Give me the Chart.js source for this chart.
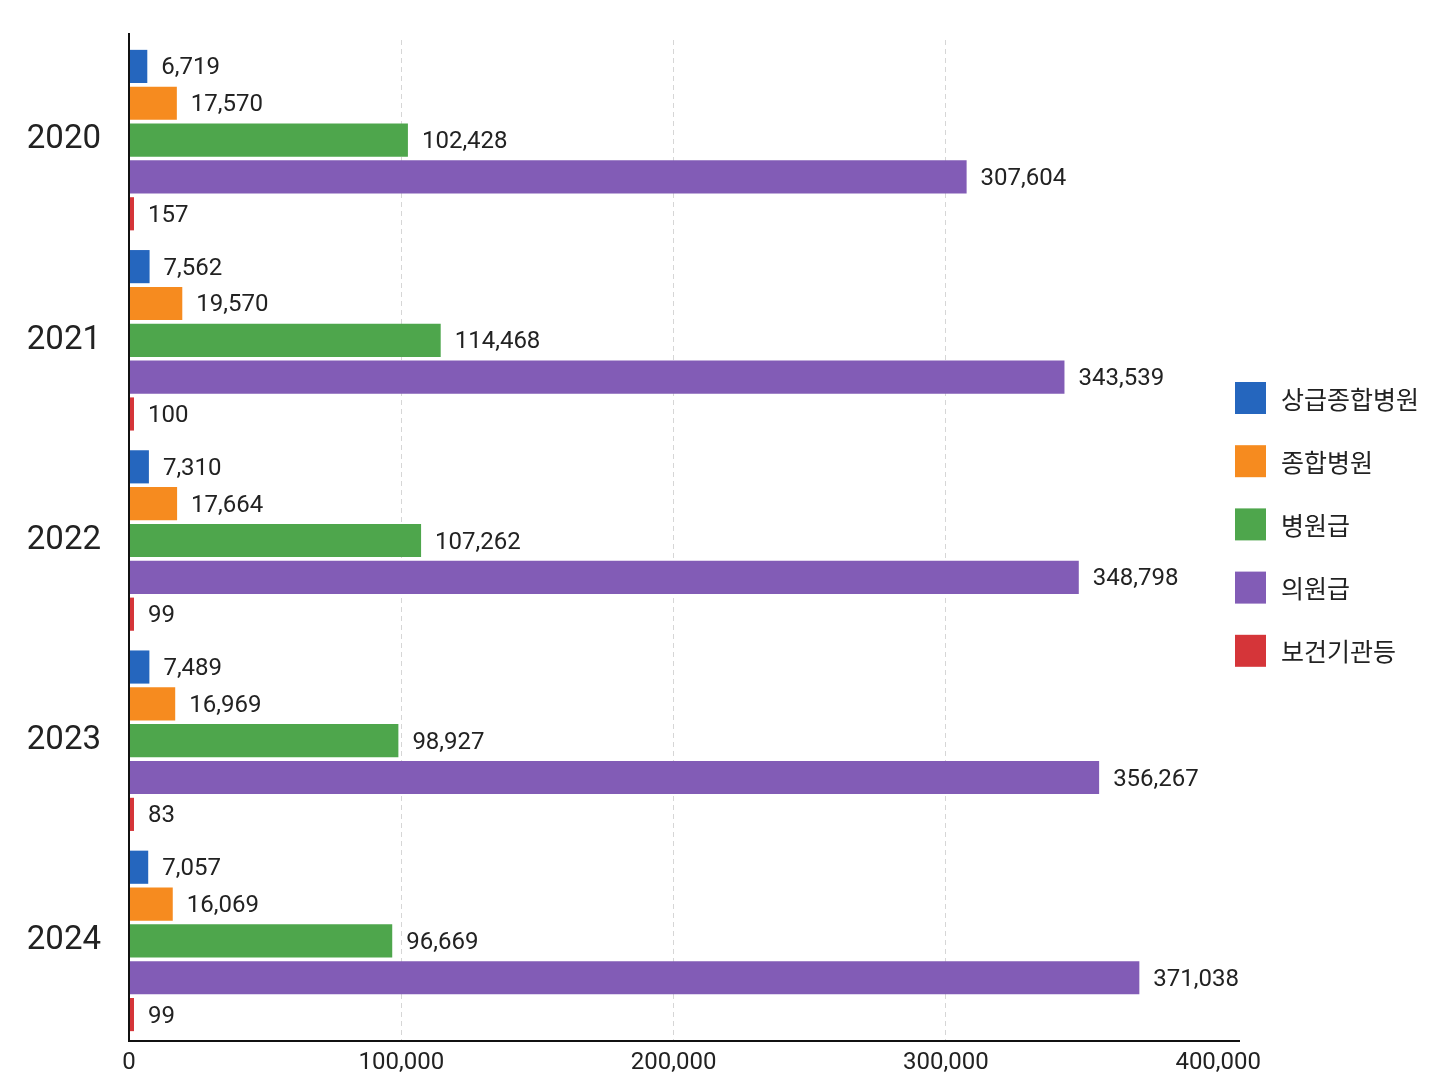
<!DOCTYPE html>
<html>
<head>
<meta charset="utf-8">
<style>
html,body{margin:0;padding:0;background:#fff;}
#wrap{position:relative;width:1448px;height:1086px;}
</style>
<script src="https://cdn.jsdelivr.net/npm/chart.js@4.4.1/dist/chart.umd.min.js"></script>
</head>
<body>
<div id="wrap"><canvas id="c" width="1448" height="1086"></canvas></div>
<script>
const years = ['2020', '2021', '2022', '2023', '2024'];
const seriesNames = ['상급종합병원', '종합병원', '병원급', '의원급', '보건기관등'];
const tertiary = [6719, 7562, 7310, 7489, 7057];
const general = [17570, 19570, 17664, 16969, 16069];
const hospital = [102428, 114468, 107262, 98927, 96669];
const clinic = [307604, 343539, 348798, 356267, 371038];
const publicHealth = [157, 100, 99, 83, 99];
const xTicks = [0, 100000, 200000, 300000, 400000];
const colors = ['#2566be', '#f68b1f', '#4ea64c', '#825cb6', '#d53539'];

const allSeries = [tertiary, general, hospital, clinic, publicHealth];

const labelPlugin = {
  id: 'valueLabels',
  afterDatasetsDraw(chart) {
    const ctx = chart.ctx;
    ctx.save();
    ctx.font = '24px Roboto';
    ctx.fillStyle = '#222';
    ctx.textBaseline = 'middle';
    ctx.textAlign = 'left';
    chart.data.datasets.forEach((ds, i) => {
      const meta = chart.getDatasetMeta(i);
      meta.data.forEach((bar, j) => {
        ctx.fillText(ds.data[j].toLocaleString('en-US'), bar.x + 14, bar.y + 2);
      });
    });
    ctx.restore();
  }
};

const axisPlugin = {
  id: 'axisLines',
  afterDraw(chart) {
    const ctx = chart.ctx;
    const a = chart.chartArea;
    ctx.save();
    ctx.strokeStyle = '#111';
    ctx.lineWidth = 2;
    ctx.setLineDash([]);
    ctx.beginPath();
    ctx.moveTo(a.left, 33);
    ctx.lineTo(a.left, a.bottom);
    ctx.lineTo(a.right, a.bottom);
    ctx.stroke();
    ctx.restore();
  }
};

const legendPlugin = {
  id: 'customLegend',
  afterDraw(chart) {
    const ctx = chart.ctx;
    ctx.save();
    ctx.font = '25px "Noto Sans CJK KR"';
    ctx.textBaseline = 'middle';
    ctx.textAlign = 'left';
    chart.data.datasets.forEach((ds, i) => {
      const cy = 398 + i * 63.2;
      ctx.fillStyle = ds.backgroundColor;
      ctx.fillRect(1235, cy - 16, 31, 32);
      ctx.fillStyle = '#222';
      ctx.fillText(ds.label, 1281, cy + 1);
    });
    ctx.restore();
  }
};

new Chart(document.getElementById('c'), {
  type: 'bar',
  data: {
    labels: years,
    datasets: allSeries.map((d, i) => ({
      label: seriesNames[i],
      data: d,
      backgroundColor: colors[i],
      borderWidth: 0,
      categoryPercentage: 0.92,
      barPercentage: 0.9,
      minBarLength: i === 4 ? 5 : 0
    }))
  },
  options: {
    indexAxis: 'y',
    responsive: false,
    animation: false,
    devicePixelRatio: 1,
    layout: { padding: { top: 40, right: 208, bottom: 0, left: 0 } },
    plugins: { legend: { display: false }, tooltip: { enabled: false } },
    scales: {
      x: {
        min: 0,
        max: 408000,
        afterBuildTicks(scale) { scale.ticks = xTicks.map(v => ({ value: v })); },
        afterFit(scale) { scale.height = 45; scale.paddingLeft = 0; scale.paddingRight = 0; },
        ticks: {
          font: { family: 'Roboto', size: 24 },
          color: '#222',
          padding: 8,
          callback: v => v.toLocaleString('en-US')
        },
        grid: {
          color: ctx => (ctx.tick && (ctx.tick.value === 0 || ctx.tick.value === 400000)) ? 'rgba(0,0,0,0)' : '#d6d6d6',
          lineWidth: 1,
          drawTicks: false
        },
        border: { display: false, dash: [5, 4] }
      },
      y: {
        afterFit(scale) { scale.width = 129; scale.paddingTop = 0; scale.paddingBottom = 0; },
        ticks: {
          font: { family: 'Roboto', size: 33 },
          color: '#222',
          padding: 28
        },
        grid: { display: false, drawTicks: false },
        border: { display: false }
      }
    }
  },
  plugins: [labelPlugin, legendPlugin, axisPlugin]
});
</script>
</body>
</html>
